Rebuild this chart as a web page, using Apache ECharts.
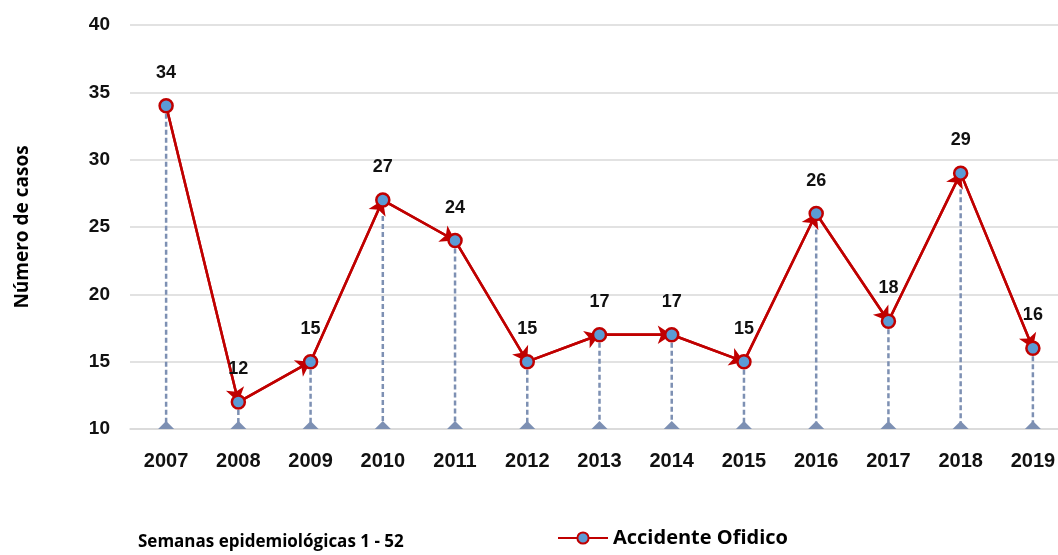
<html>

<head>
  <script src="https://cdnjs.cloudflare.com/ajax/libs/echarts/6.0.0/echarts.min.js"></script>
</head>

<body style="margin:0">
  <div id="main" style="width: 1058px;height:555px;"></div>
  <script>
    // data
    var years = ['2007', '2008', '2009', '2010', '2011', '2012', '2013', '2014', '2015', '2016', '2017', '2018', '2019'];
    var casos = [34, 12, 15, 27, 24, 15, 17, 17, 15, 26, 18, 29, 16];
    var yMin = 10;
    var yMax = 40;
    var yStep = 5;

    var red = '#c00000';
    var blue = '#5b9bd5';
    var dropColor = '#7d90b3';

    var myChart = echarts.init(document.getElementById('main'));

    // one arrow segment from each point to the next
    const segments = [];
    for (let i = 1; i < casos.length; i++) {
      segments.push([{ coord: [i - 1, casos[i - 1]] }, { coord: [i, casos[i]] }]);
    }

    option = {
      animation: false,
      backgroundColor: '#fff',
      textStyle: { fontFamily: 'Liberation Sans' },
      grid: {
        left: 130,
        top: 25,
        width: 939,
        height: 404,
        outerBoundsMode: 'none'
      },
      legend: {
        left: 552,
        top: 523,
        itemWidth: 50,
        itemHeight: 14,
        itemGap: 8,
        textStyle: {
          fontFamily: 'Open Sans',
          fontSize: 20,
          fontWeight: 'bold',
          color: '#000'
        },
        data: ['Accidente Ofidico']
      },
      graphic: [{
        type: 'text',
        left: 138,
        top: 534,
        style: {
          text: 'Semanas epidemiológicas 1 - 52',
          fontFamily: 'Open Sans',
          fontSize: 17,
          fontWeight: 'bold',
          fill: '#000'
        }
      }],
      xAxis: {
        type: 'category',
        data: years,
        boundaryGap: true,
        axisLine: { lineStyle: { color: '#d9d9d9', width: 1.5 } },
        axisTick: { show: false },
        axisLabel: {
          margin: 22,
          fontSize: 20,
          fontWeight: 'bold',
          color: '#111'
        }
      },
      yAxis: {
        type: 'value',
        min: yMin,
        max: yMax,
        interval: yStep,
        name: 'Número de casos',
        nameLocation: 'middle',
        nameRotate: 90,
        nameGap: 98,
        nameTextStyle: {
          fontFamily: 'Open Sans',
          fontSize: 19,
          fontWeight: 'bold',
          color: '#000'
        },
        axisLine: { show: false },
        axisTick: { show: false },
        axisLabel: {
          margin: 20,
          fontSize: 19,
          fontWeight: 'bold',
          color: '#111'
        },
        splitLine: { lineStyle: { color: '#d9d9d9', width: 1.5 } }
      },
      series: [{
          name: 'drops',
          type: 'custom',
          z: 1,
          silent: true,
          data: casos.map((v, i) => [i, v]),
          renderItem: function (params, api) {
            const top = api.coord([api.value(0), api.value(1)]);
            const base = api.coord([api.value(0), yMin]);
            return {
              type: 'group',
              children: [{
                  type: 'line',
                  shape: { x1: top[0], y1: top[1], x2: base[0], y2: base[1] },
                  style: { stroke: dropColor, lineWidth: 2.5, lineDash: [5, 3] }
                },
                {
                  type: 'polygon',
                  shape: { points: [[base[0] - 8, base[1]], [base[0] + 8, base[1]], [base[0], base[1] - 8]] },
                  style: { fill: dropColor }
                }
              ]
            };
          }
        },
        {
          name: 'Accidente Ofidico',
          type: 'line',
          z: 10,
          data: casos,
          symbol: 'circle',
          symbolSize: 13,
          lineStyle: { color: red, width: 2.5 },
          itemStyle: { color: blue, borderColor: red, borderWidth: 2.5 },
          label: {
            show: true,
            position: 'top',
            distance: 16,
            fontSize: 18,
            fontWeight: 'bold',
            color: '#111'
          },
          markLine: {
            z: 3,
            silent: true,
            symbol: ['none', 'arrow'],
            symbolSize: 14,
            label: { show: false },
            lineStyle: { color: red, width: 2.5, type: 'solid' },
            data: segments
          }
        }
      ]
    };

    myChart.setOption(option);

  </script>
</body>

</html>
